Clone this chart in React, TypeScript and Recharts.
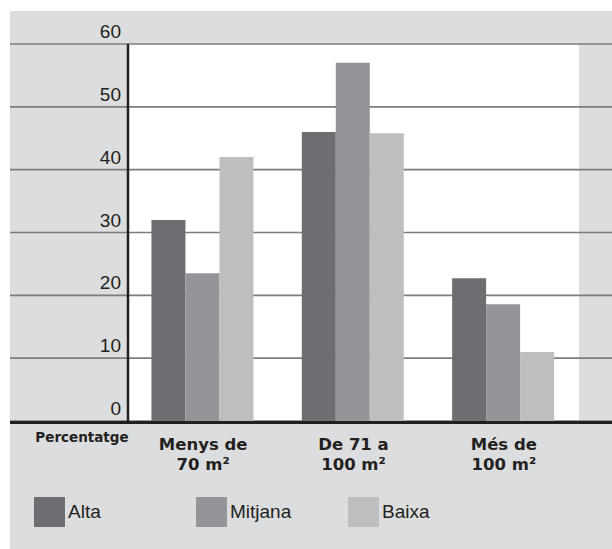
import React from "react";
import {
  BarChart,
  Bar,
  CartesianGrid,
  XAxis,
  YAxis,
  Legend,
} from "recharts";

// categories split in two lines as in the printed chart
const categoryTop = ["Menys de", "De 71 a", "Més de"];
const categoryBottom = ["70 m²", "100 m²", "100 m²"];

const alta = [32, 46, 22.7];
const mitjana = [23.5, 57, 18.6];
const baixa = [42, 45.8, 11];

const yTicks = [0, 10, 20, 30, 40, 50, 60];

const seriesNames = ["Alta", "Mitjana", "Baixa"];
const seriesColors = ["#6d6e71", "#939598", "#bcbec0"];

const data = categoryTop.map((top, i) => ({
  name: `${top} ${categoryBottom[i]}`,
  Alta: alta[i],
  Mitjana: mitjana[i],
  Baixa: baixa[i],
}));

const W = 612;
const H = 549;
const bgColor = "#dcdddf";
const gridColor = "#7d7d7d";
const axisColor = "#231f20";

const YTick = (props: any) => {
  const { x, y, payload } = props;
  return (
    <g>
      {payload.value === 0 && (
        <line x1={10} x2={W} y1={y + 1.5} y2={y + 1.5} stroke={axisColor} strokeWidth={3} />
      )}
      <text
        x={x - 7}
        y={y - 6}
        textAnchor="end"
        fontSize={19}
        fontFamily="'Liberation Sans', Arial, sans-serif"
        fill="#231f20"
      >
        {payload.value}
      </text>
    </g>
  );
};

const XTick = (props: any) => {
  const { x, y, index } = props;
  return (
    <text
      x={x}
      y={y}
      textAnchor="middle"
      fontSize={16.5}
      fontWeight="bold"
      fontFamily="'DejaVu Sans', sans-serif"
      fill="#231f20"
    >
      <tspan x={x} dy={21}>{categoryTop[index]}</tspan>
      <tspan x={x} dy={20}>{categoryBottom[index]}</tspan>
    </text>
  );
};

const renderLegend = () => (
  <div style={{ position: "relative", height: 50 }}>
    {seriesNames.map((name, i) => (
      <div
        key={name}
        style={{
          position: "absolute",
          left: [34, 196, 348][i],
          top: 0,
          display: "flex",
          alignItems: "center",
        }}
      >
        <div style={{ width: 31, height: 30, background: seriesColors[i] }} />
        <span
          style={{
            marginLeft: 3,
            fontSize: 19,
            fontFamily: "'Liberation Sans Narrow', 'Liberation Sans', Arial, sans-serif",
            color: "#231f20",
          }}
        >
          {name}
        </span>
      </div>
    ))}
  </div>
);

export default function App() {
  return (
    <div style={{ position: "absolute", left: 0, top: 0, width: W, height: H }}>
      <div
        style={{
          position: "absolute",
          left: 10,
          top: 11,
          width: W - 10,
          height: H - 11,
          background: bgColor,
        }}
      />
      <div style={{ position: "absolute", left: 0, top: 0 }}>
        <BarChart
          width={W}
          height={H}
          data={data}
          margin={{ top: 44, right: 33, left: 0, bottom: 28 }}
          barCategoryGap="15.6%"
          barGap={0}
        >
          <CartesianGrid fill="#ffffff" fillOpacity={1} horizontal={false} vertical={false} />
          <CartesianGrid
            x={10}
            width={W - 10}
            vertical={false}
            stroke={gridColor}
            strokeWidth={1.6}
          />
          <XAxis
            dataKey="name"
            axisLine={false}
            tickLine={false}
            height={50}
            tick={<XTick />}
            interval={0}
          />
          <YAxis
            width={128}
            domain={[0, 60]}
            ticks={yTicks}
            interval={0}
            tickSize={0}
            tickMargin={0}
            axisLine={{ stroke: axisColor, strokeWidth: 2.5 }}
            tickLine={false}
            tick={<YTick />}
          />
          <text
            x={82}
            y={442}
            textAnchor="middle"
            fontSize={13.5}
            fontWeight="bold"
            fontFamily="'DejaVu Sans', sans-serif"
            fill="#231f20"
          >
            Percentatge
          </text>
          {seriesNames.map((name, i) => (
            <Bar
              key={name}
              dataKey={name}
              fill={seriesColors[i]}
              isAnimationActive={false}
            />
          ))}
          <Legend
            verticalAlign="bottom"
            height={50}
            content={renderLegend}
            wrapperStyle={{ left: 0, top: 497, bottom: "auto", width: W }}
          />
        </BarChart>
      </div>
    </div>
  );
}
